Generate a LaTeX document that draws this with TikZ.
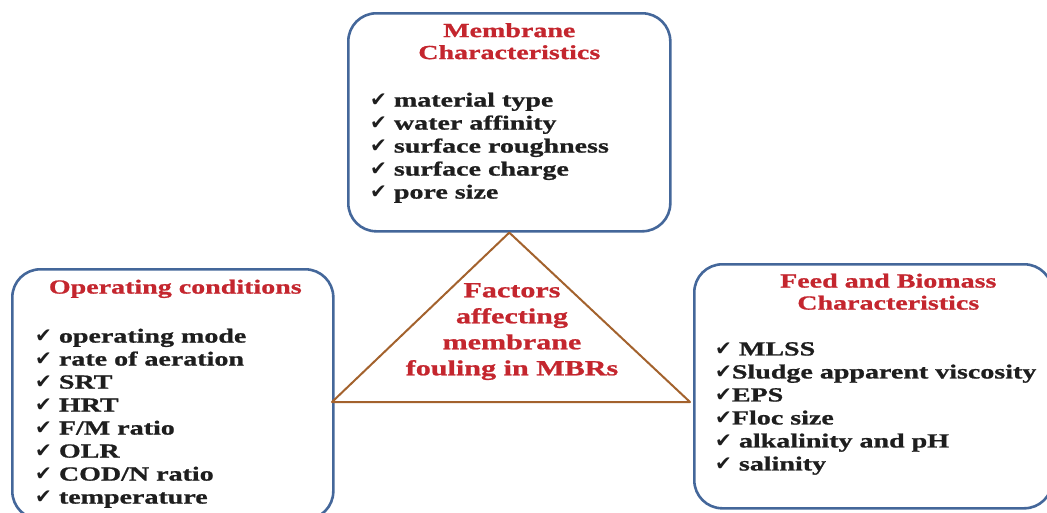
\documentclass[tikz,border=0pt]{standalone}
\usepackage{fontspec}
\setmainfont{Liberation Serif}[FakeStretch=1.4, BoldFeatures={FakeBold=1}]
\newfontfamily\tickfont{DejaVu Sans}
\usetikzlibrary{positioning}
\definecolor{boxblue}{HTML}{44679A}
\definecolor{headred}{HTML}{C4262E}
\definecolor{tribrown}{HTML}{A3622D}
\definecolor{itemblack}{HTML}{1E1E1E}
\newcommand{\tickmark}{{\tickfont\fontsize{20}{20}\selectfont ✔}}

\begin{document}
\begin{tikzpicture}[
  x=1pt, y=1pt,
  every node/.style={inner sep=0pt, font=\bfseries},
  factorbox/.style={draw=boxblue, line width=2.6pt, rounded corners=28pt,
                    anchor=north west},
  heading/.style={text=headred, align=center,
                  font=\bfseries\fontsize{20}{22}\selectfont},
  itemlist/.style={text=itemblack, align=left, anchor=north west,
                   font=\bfseries\fontsize{20}{23}\selectfont},
  hub/.style={text=headred, align=center,
              font=\bfseries\fontsize{21.5}{26}\selectfont},
]
  \useasboundingbox (0,0) rectangle (1047,-512);
  \clip (0,0) rectangle (1047,-512);

  % the three groups of factors
  \node[factorbox, minimum width=322pt, minimum height=218pt] (membrane) at (347,-12) {};
  \node[factorbox, minimum width=321pt, minimum height=250pt] (operating) at (11,-268) {};
  \node[factorbox, minimum width=358pt, minimum height=244pt] (feed) at (693,-263) {};

  \node[heading, below=11pt of membrane.north] (membranehead) {Membrane\\Characteristics};
  \node[heading, below=11.5pt of operating.north, xshift=2.5pt] (operatinghead) {Operating conditions};
  \node[heading, below=10.5pt of feed.north, xshift=15pt] (feedhead) {Feed and Biomass\\Characteristics};

  \node[itemlist, below right=80.5pt and 23pt of membrane.north west] (membranelist)
    {\tickmark\ material type\\
     \tickmark\ water affinity\\
     \tickmark\ surface roughness\\
     \tickmark\ surface charge\\
     \tickmark\ pore size};
  \node[itemlist, below right=60.5pt and 24pt of operating.north west] (operatinglist)
    {\tickmark\ operating mode\\
     \tickmark\ rate of aeration\\
     \tickmark\ SRT\\
     \tickmark\ HRT\\
     \tickmark\ F/M ratio\\
     \tickmark\ OLR\\
     \tickmark\ COD/N ratio\\
     \tickmark\ temperature};
  \node[itemlist, below right=79pt and 22pt of feed.north west] (feedlist)
    {\tickmark\ MLSS\\
     \tickmark{}Sludge apparent viscosity\\
     \tickmark{}EPS\\
     \tickmark{}Floc size\\
     \tickmark\ alkalinity and pH\\
     \tickmark\ salinity};

  % the central triangle
  \coordinate (apex) at (membrane.south);
  \coordinate (baseL) at (332,-402);
  \coordinate (baseR) at (690,-402);
  \draw[tribrown, line width=2pt, line join=round] (apex) -- (baseL) -- (baseR) -- cycle;
  \node[hub, anchor=north] (hubtext) at (512,-283)
    {Factors\\affecting\\membrane\\fouling in MBRs};
\end{tikzpicture}
\end{document}
